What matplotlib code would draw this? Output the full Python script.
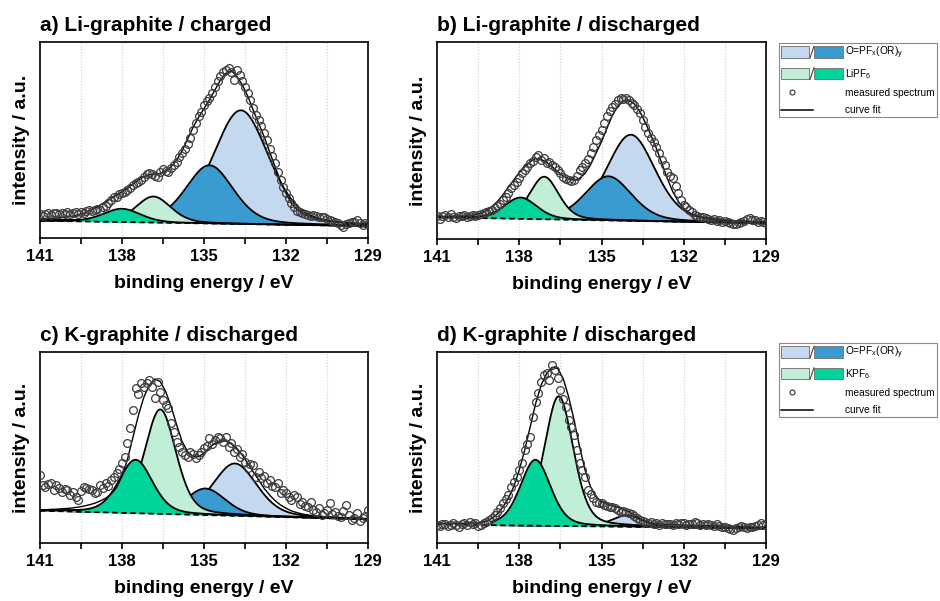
import numpy as np
import matplotlib
matplotlib.use('Agg')
import matplotlib.pyplot as plt
from matplotlib.patches import Rectangle
from matplotlib.lines import Line2D
from matplotlib.legend_handler import HandlerBase

plt.rcParams['font.family'] = ['Liberation Sans', 'DejaVu Sans']
plt.rcParams['mathtext.default'] = 'regular'

# ---------------- data ----------------
titles = ['a) Li-graphite / charged', 'b) Li-graphite / discharged',
          'c) K-graphite / discharged', 'd) K-graphite / discharged']
xlabel = 'binding energy / eV'
ylabel = 'intensity / a.u.'
xticks = [141, 138, 135, 132, 129]
xminor = [139.5, 136.5, 133.5, 130.5]

# measured spectra, 141.0 eV downwards in 0.1 eV steps
# (relative units: 0 = bottom of frame, 100 = top of frame)
meas_start, meas_step = 141.0, 0.1
measured_a = [12.0, 11.2, 12.5, 12.8, 11.9, 12.6, 13.0, 12.2, 12.9, 12.4, 13.1, 12.0, 12.7, 13.3, 12.5, 13.4,
              13.0, 13.8, 14.2, 13.6, 14.5, 15.0, 14.3, 15.6, 16.2,
              18.0, 19.5, 20.8, 21.0, 22.5, 23.0, 23.6, 24.5, 25.5, 26.8,
              27.9, 28.6, 29.8, 31.0, 32.5, 33.2, 32.8, 31.5, 31.0, 33.5,
              35.2, 34.0, 33.5, 35.5, 37.0,
              39.0, 41.5, 43.5, 45.5, 48.0, 51.0, 55.1, 58.5, 62.0, 64.5,
              68.0, 70.0, 71.5, 73.8, 77.2, 80.0, 82.5, 84.5, 85.7, 86.6,
              84.5, 80.6, 85.7, 83.2, 80.0, 77.0, 74.0, 70.5, 66.2, 63.0,
              60.0, 57.0, 53.5, 50.0, 45.5, 42.0, 38.1, 33.5, 29.5, 26.0,
              23.0, 20.5, 17.7, 15.8, 14.0, 13.2, 12.6, 12.0, 11.7, 11.2,
              11.7, 11.0, 10.9, 10.5, 10.9, 9.8, 9.2, 8.8, 8.3, 7.5,
              6.5, 5.8, 7.0, 7.5, 8.2, 8.0, 9.2, 7.8, 6.6, 7.5, 7.2]
measured_b = [11.5, 10.2, 11.8, 12.0, 11.0, 12.5, 11.3, 10.8, 11.9, 11.6, 12.2, 11.0, 11.8, 12.4, 11.5, 12.0,
              12.8, 13.0, 13.5, 14.2, 14.7, 15.8, 17.0, 18.0, 19.8,
              21.5, 23.5, 25.7, 27.5, 29.1, 31.0, 33.3, 35.0, 36.7, 38.5,
              39.6, 41.8, 42.5, 40.1, 41.0, 38.4, 39.0, 37.6, 36.5, 35.0,
              33.5, 31.6, 30.5, 30.0, 29.5, 30.0, 32.0, 35.0, 36.5, 38.4,
              40.5, 43.5, 46.5, 50.3, 53.0, 55.3, 59.0, 62.5, 64.8, 67.0,
              68.5, 70.6, 71.5, 70.9, 71.8, 70.6, 68.8, 68.0, 66.0, 63.8,
              60.5, 57.0, 54.0, 51.1, 49.0, 46.9, 43.5, 40.1, 37.5, 34.2,
              32.0, 30.8, 27.0, 23.2, 20.0, 17.3, 16.0, 14.7, 13.5, 12.2,
              11.8, 11.0, 11.2, 10.5, 10.0, 9.6, 10.2, 9.0, 9.5, 8.8,
              9.2, 8.5, 8.0, 7.8, 7.4, 8.3, 8.8, 9.2, 10.0, 10.5,
              9.8, 9.6, 8.8, 9.1, 8.5, 8.3]
measured_c = [35.6, 30.4, 29.5, 30.8, 31.2, 27.7, 30.4, 29.0, 26.9, 28.5,
              27.7, 25.1, 26.9, 24.0, 22.5, 27.0, 29.5, 29.0, 28.2, 27.7,
              26.0, 26.9, 30.4, 29.0, 31.2, 30.0, 33.0, 34.5, 36.5, 38.5,
              41.7, 45.0, 52.2, 60.0, 69.6, 81.0, 78.0, 83.6, 81.8, 84.0,
              85.3, 81.8, 75.7, 84.5, 79.2, 74.9, 72.0, 70.5, 62.7, 58.0,
              53.0, 50.4, 47.8, 46.0, 45.2, 47.8, 46.5, 44.3, 46.0, 47.8,
              49.6, 51.0, 54.8, 52.0, 53.9, 55.5, 54.8, 53.0, 55.7, 50.5,
              52.2, 47.8, 49.0, 45.2, 46.5, 42.6, 39.1, 41.5, 40.8, 34.7,
              37.0, 33.9, 35.0, 31.2, 33.0, 30.0, 29.5, 31.5, 26.0, 27.5,
              26.0, 24.0, 22.5, 25.0, 24.3, 20.5, 21.6, 19.5, 19.0, 21.5,
              17.3, 16.0, 18.2, 14.5, 15.5, 17.5, 20.8, 15.0, 16.4, 14.0,
              13.8, 16.5, 19.9, 14.8, 12.0, 13.0, 15.5, 11.5, 12.9, 14.0,
              17.3]
measured_d = [9.5, 8.8, 9.9, 10.2, 9.0, 9.6, 10.5, 9.2, 8.5, 9.8,
              10.3, 9.4, 10.8, 9.9, 10.5, 8.9, 9.5, 10.3, 11.0, 12.0,
              13.0, 14.7, 16.4, 18.5, 20.8, 23.0, 25.1, 29.5, 32.0, 34.7,
              38.0, 41.7, 48.7, 52.0, 55.7, 66.1, 74.0, 78.4, 84.5, 88.0,
              88.8, 85.3, 93.2, 90.6, 86.2, 80.1, 75.5, 71.4, 64.4, 60.5,
              56.5, 48.7, 41.7, 38.0, 34.7, 27.7, 25.5, 23.4, 21.6, 21.0,
              20.8, 19.9, 19.5, 19.0, 18.8, 18.2, 17.5, 16.4, 16.8, 16.4,
              15.8, 15.2, 14.0, 12.9, 12.3, 11.7, 11.0, 10.6, 10.8, 10.0,
              10.3, 9.6, 10.5, 9.9, 10.2, 9.9, 9.2, 10.4, 9.8, 10.6,
              10.3, 9.5, 10.2, 9.8, 10.8, 10.3, 9.6, 10.1, 9.3, 10.0,
              9.4, 8.8, 9.7, 9.0, 8.4, 8.6, 7.8, 7.2, 6.8, 8.0,
              8.6, 9.0, 8.2, 7.8, 8.5, 8.2, 9.0, 9.6, 10.3, 9.2,
              9.4]

# curve fit (envelope), 141.0 eV downwards in 0.2 eV steps
fit_start, fit_step = 141.0, 0.2
curvefit_a = [9.7, 9.8, 10.0, 10.2, 10.5, 10.8, 11.2, 11.8, 12.6, 13.8,
              15.1, 16.8, 18.5, 20.2, 21.9, 23.6, 25.3, 27.5, 29.6, 31.3,
              32.3, 32.6, 33.0, 34.2, 36.4, 39.8, 44.5, 50.5, 56.5, 61.5,
              66.0, 70.5, 75.5, 80.5, 84.0, 85.4, 82.6, 78.1, 72.4, 65.3,
              58.5, 51.7, 44.0, 36.4, 28.7, 22.8, 17.7, 14.6, 12.6, 11.2,
              10.2, 9.5, 9.0, 8.6, 8.2, 7.9, 7.6, 7.3, 7.1, 6.9,
              6.7]
curvefit_b = [11.3, 11.4, 11.5, 11.5, 11.6, 11.7, 11.9, 12.3, 13.0, 14.4,
              16.4, 19.0, 22.3, 26.2, 30.0, 33.7, 36.7, 39.3, 40.9, 40.4,
              38.9, 36.7, 34.2, 32.0, 30.5, 29.9, 30.8, 33.3, 37.6, 43.5,
              49.4, 56.2, 62.9, 67.5, 70.2, 70.6, 68.5, 64.6, 59.1, 52.8,
              46.0, 38.4, 30.8, 24.0, 19.0, 15.6, 13.4, 12.2, 11.3, 10.8,
              10.3, 10.0, 9.7, 9.5, 9.3, 9.1, 9.0, 8.8, 8.7, 8.6,
              8.5]
curvefit_c = [17.3, 17.4, 17.6, 17.7, 17.9, 18.1, 18.4, 18.8, 19.3, 20.0,
              20.8, 22.0, 23.4, 25.6, 29.0, 35.0, 43.8, 55.3, 66.8, 76.4,
              82.7, 85.9, 84.5, 79.2, 71.4, 61.8, 53.1, 47.8, 45.3, 45.2,
              47.0, 49.9, 52.2, 53.4, 53.4, 52.2, 49.6, 46.1, 41.7, 37.3,
              33.0, 28.6, 25.1, 22.2, 19.9, 18.2, 16.8, 15.9, 15.2, 14.7,
              14.2, 14.0, 13.8, 13.6, 13.4, 13.2, 13.0, 12.8, 12.7, 12.5,
              12.4]
curvefit_d = [10.3, 10.3, 10.3, 10.3, 10.3, 10.3, 10.4, 10.5, 10.8, 11.5,
              12.9, 15.2, 18.7, 23.4, 29.5, 38.2, 48.7, 60.9, 73.1, 82.7,
              88.8, 92.0, 91.4, 86.2, 76.6, 64.4, 50.4, 38.2, 29.5, 24.3,
              21.6, 20.4, 19.5, 18.7, 17.6, 16.4, 14.7, 12.9, 11.5, 10.6,
              10.1, 9.9, 9.8, 9.7, 9.5, 9.4, 9.3, 9.3, 9.2, 9.2,
              9.1, 9.0, 8.9, 8.8, 8.7, 8.6, 8.5, 8.4, 8.3, 8.3,
              8.2]

# linear background [value at 141 eV, value at 129 eV]
background_a = [8.8, 6.1]
background_b = [11.0, 8.0]
background_c = [16.9, 12.4]
background_d = [9.7, 7.6]

# fit components: order = O=PFx(OR)y (light, dark), MPF6 (light, dark)
centers_a = [133.65, 134.80, 136.85, 138.00]
fwhm_a    = [2.40, 2.05, 1.50, 1.60]
heights_a = [58.0, 29.7, 13.3, 6.8]

centers_b = [133.93, 134.75, 137.09, 137.95]
fwhm_b    = [2.10, 2.00, 1.25, 1.40]
heights_b = [43.7, 22.4, 21.6, 10.8]

centers_c = [133.87, 134.94, 136.60, 137.50]
fwhm_c    = [1.90, 1.70, 1.35, 1.45]
heights_c = [27.4, 13.9, 54.7, 28.0]

centers_d = [134.07, 135.16, 136.56, 137.41]
fwhm_d    = [1.30, 1.30, 1.25, 1.30]
heights_d = [6.0, 2.7, 67.9, 34.5]

fit_upper = [141.0, 141.0, 141.0, 139.0]
lorentz_fraction = 0.3

legend_b = ['O=PF$_x$(OR)$_y$', 'LiPF$_6$', 'measured spectrum', 'curve fit']
legend_d = ['O=PF$_x$(OR)$_y$', 'KPF$_6$', 'measured spectrum', 'curve fit']

comp_colors = ['#c4d9f0', '#3a9bd0', '#c0eed6', '#00d49a']

# ---------------- drawing ----------------
def pseudo_voigt(E, c, F, h, eta):
    x = (E - c) / F
    return h * ((1 - eta) * np.exp(-4 * np.log(2) * x ** 2) + eta / (1 + 4 * x ** 2))

fig = plt.figure(figsize=(9.4, 6.01), dpi=100)

W, H = 940.0, 601.0
boxes = [(40, 42, 328, 196), (437, 42, 329, 197), (40, 352, 328, 191), (437, 352, 329, 191)]

panels = [
    (measured_a, curvefit_a, background_a, centers_a, fwhm_a, heights_a),
    (measured_b, curvefit_b, background_b, centers_b, fwhm_b, heights_b),
    (measured_c, curvefit_c, background_c, centers_c, fwhm_c, heights_c),
    (measured_d, curvefit_d, background_d, centers_d, fwhm_d, heights_d),
]

for k, (meas, env, bg, cen, fw, hts) in enumerate(panels):
    l, t, w, h = boxes[k]
    ax = fig.add_axes([l / W, 1 - (t + h) / H, w / W, h / H])
    E = np.linspace(141, 129, 1200)
    base = bg[0] + (bg[1] - bg[0]) * (141 - E) / 12.0
    mask = E <= fit_upper[k] + 1e-9
    for j in range(4):
        y = base + pseudo_voigt(E, cen[j], fw[j], hts[j], lorentz_fraction)
        ax.fill_between(E[mask], base[mask], y[mask], color=comp_colors[j], lw=0, zorder=2 + j * 0.1)
        ax.plot(E[mask], y[mask], color='black', lw=1.3, zorder=2.05 + j * 0.1)
    xe = fit_start - fit_step * np.arange(len(env))
    ax.plot(xe, env, color='black', lw=1.0, zorder=3)
    ax.plot(E, base, color='black', lw=1.3, ls=(0, (3, 2)), zorder=3.1)
    xm = meas_start - meas_step * np.arange(len(meas))
    ax.plot(xm, meas, ls='none', marker='o', ms=5.6, mfc='none', mec='#3c3c3c', mew=0.9, zorder=4)

    ax.set_xlim(141, 129)
    ax.set_ylim(0, 100)
    ax.set_xticks(xticks)
    ax.set_xticks(xminor, minor=True)
    ax.set_xticklabels([str(v) for v in xticks], fontsize=12, fontweight='bold')
    ax.set_yticks([])
    ax.tick_params(axis='x', which='both', direction='out', length=4, width=1.2, pad=4)
    ax.grid(True, axis='x', which='both', color='#cfcfcf', ls=':', lw=0.8, zorder=0)
    ax.set_axisbelow(True)
    for s in ax.spines.values():
        s.set_linewidth(1.2)
    ax.set_xlabel(xlabel, fontsize=14, fontweight='bold', labelpad=8)
    ax.set_ylabel(ylabel, fontsize=14, fontweight='bold', labelpad=7)
    ax.set_title(titles[k], loc='left', fontsize=15, fontweight='bold', pad=8)


class PairKey:
    def __init__(self, c1, c2):
        self.c1, self.c2 = c1, c2

class MarkerKey:
    pass

class LineKey:
    pass

class PairHandler(HandlerBase):
    def create_artists(self, legend, orig, xd, yd, width, height, fontsize, trans):
        x0, y0 = -xd, -yd
        gap = 0.08 * width
        pw = (width - gap) / 2
        r1 = Rectangle((x0, y0), pw, height, fc=orig.c1, ec='#7a7a7a', lw=0.7, transform=trans)
        r2 = Rectangle((x0 + pw + gap, y0), pw, height, fc=orig.c2, ec='#7a7a7a', lw=0.7, transform=trans)
        sl = Line2D([x0 + pw + 0.1 * gap, x0 + pw + 0.9 * gap], [y0, y0 + height], color='#444', lw=0.8, transform=trans)
        return [r1, r2, sl]

class MarkerHandler(HandlerBase):
    def create_artists(self, legend, orig, xd, yd, width, height, fontsize, trans):
        x0, y0 = -xd, -yd
        m = Line2D([x0 + 0.18 * width], [y0 + height / 2], ls='none', marker='o', ms=3.6,
                   mfc='none', mec='#333', mew=0.8, transform=trans)
        return [m]

class LineHandler(HandlerBase):
    def create_artists(self, legend, orig, xd, yd, width, height, fontsize, trans):
        x0, y0 = -xd, -yd
        ln = Line2D([x0, x0 + 0.52 * width], [y0 + height / 2] * 2, color='black', lw=1.1, transform=trans)
        return [ln]

hmap = {PairKey: PairHandler(), MarkerKey: MarkerHandler(), LineKey: LineHandler()}
for labels, top in [(legend_b, 43), (legend_d, 343)]:
    handles = [PairKey(comp_colors[0], comp_colors[1]), PairKey(comp_colors[2], comp_colors[3]),
               MarkerKey(), LineKey()]
    leg = fig.legend(handles, labels, handler_map=hmap, loc='upper left',
                     bbox_to_anchor=(779 / W, 1 - top / H), bbox_transform=fig.transFigure,
                     prop={'family': ['Liberation Sans', 'DejaVu Sans'], 'size': 7.3},
                     frameon=True, fancybox=False, edgecolor='#8a8a8a', framealpha=1,
                     borderpad=0.2, borderaxespad=0, handlelength=6.1, handleheight=1.4,
                     handletextpad=0.25, labelspacing=0.55)
    leg.get_frame().set_linewidth(0.8)

fig.savefig('out.png', dpi=100)
